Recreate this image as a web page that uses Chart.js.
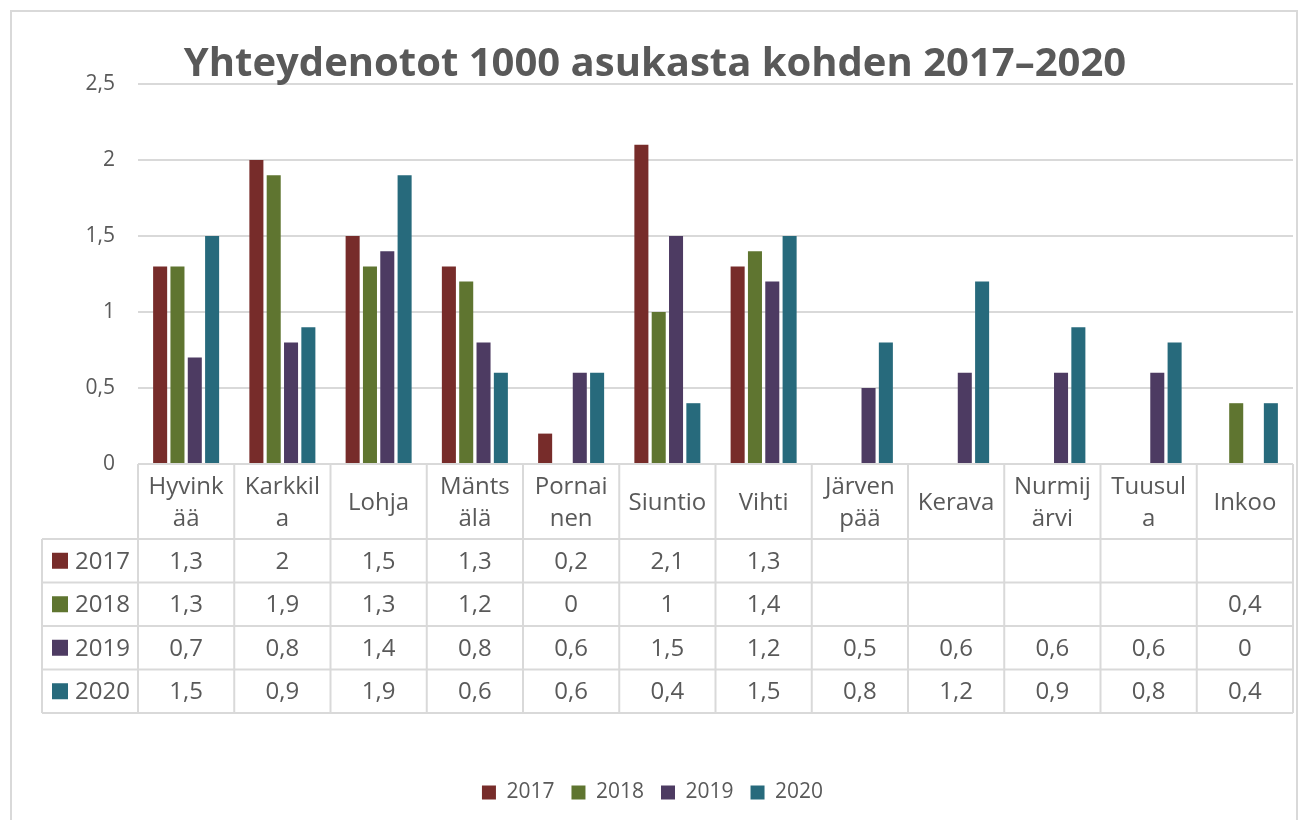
<!DOCTYPE html>
<html>
<head>
<meta charset="utf-8">
<title>Yhteydenotot 1000 asukasta kohden 2017–2020</title>
<script src="https://cdn.jsdelivr.net/npm/chart.js@4.4.0/dist/chart.umd.min.js"></script>
<style>
    html, body { margin: 0; padding: 0; background: #fff; }
    canvas { display: block; }
</style>
</head>
<body>
<canvas id="barChart" width="1302" height="820"></canvas>
<script>
// Data
const chartTitle = 'Yhteydenotot 1000 asukasta kohden 2017–2020';
const categories = [
    ['Hyvink', 'ää'], ['Karkkil', 'a'], 'Lohja', ['Mänts', 'älä'], ['Pornai', 'nen'],
    'Siuntio', 'Vihti', ['Järven', 'pää'], 'Kerava', ['Nurmij', 'ärvi'], ['Tuusul', 'a'], 'Inkoo'
];
const seriesNames = ['2017', '2018', '2019', '2020'];
const values2017 = [1.3, 2, 1.5, 1.3, 0.2, 2.1, 1.3, null, null, null, null, null];
const values2018 = [1.3, 1.9, 1.3, 1.2, 0, 1, 1.4, null, null, null, null, 0.4];
const values2019 = [0.7, 0.8, 1.4, 0.8, 0.6, 1.5, 1.2, 0.5, 0.6, 0.6, 0.6, 0];
const values2020 = [1.5, 0.9, 1.9, 0.6, 0.6, 0.4, 1.5, 0.8, 1.2, 0.9, 0.8, 0.4];
const seriesColors = ['#772C2A', '#5F7530', '#4D3B62', '#276A7C'];
const yTicks = [0, 0.5, 1, 1.5, 2, 2.5];

const TEXT = '#595959';
const LINE = '#d9d9d9';
const FONT = "'Open Sans', 'Noto Sans', sans-serif";

function fmt(v) {
    return String(v).replace('.', ',');
}

// Chart frame and title
const framePlugin = {
    id: 'frame',
    beforeDraw(chart) {
        const ctx = chart.ctx;
        ctx.save();
        ctx.fillStyle = '#fff';
        ctx.fillRect(0, 0, chart.width, chart.height);
        ctx.strokeStyle = LINE;
        ctx.lineWidth = 2;
        ctx.strokeRect(11, 11, 1286, 830);
        ctx.restore();
    },
    afterDraw(chart) {
        const ctx = chart.ctx;
        ctx.save();
        ctx.fillStyle = TEXT;
        ctx.font = 'bold 40px ' + FONT;
        ctx.textAlign = 'center';
        ctx.textBaseline = 'alphabetic';
        ctx.fillText(chartTitle, 655, 76);
        ctx.restore();
    }
};

// Data table under the plot, columns follow the x scale
const tablePlugin = {
    id: 'dataTable',
    afterDraw(chart) {
        const ctx = chart.ctx;
        const area = chart.chartArea;
        const xs = chart.scales.x;
        const n = categories.length;
        const colW = area.width / n;
        const top = area.bottom;
        const headH = 75;
        const rowH = 43.5;
        const leftX = 42;
        const bottom = top + headH + rowH * seriesNames.length;

        ctx.save();
        ctx.strokeStyle = LINE;
        ctx.lineWidth = 2;

        // horizontal lines
        ctx.beginPath();
        ctx.moveTo(area.left, top);
        ctx.lineTo(area.right, top);
        for (let r = 0; r <= seriesNames.length; r++) {
            const y = top + headH + rowH * r;
            ctx.moveTo(leftX, y);
            ctx.lineTo(area.right, y);
        }
        // vertical lines
        ctx.moveTo(leftX, top + headH);
        ctx.lineTo(leftX, bottom);
        for (let i = 0; i <= n; i++) {
            const x = xs.getPixelForValue(i) - colW / 2;
            ctx.moveTo(x, top);
            ctx.lineTo(x, bottom);
        }
        ctx.stroke();

        ctx.fillStyle = TEXT;
        ctx.textAlign = 'center';
        ctx.textBaseline = 'middle';
        ctx.font = '24px ' + FONT;

        // header cells
        categories.forEach((cat, i) => {
            const cx = xs.getPixelForValue(i);
            const lines = Array.isArray(cat) ? cat : [cat];
            const lh = 32;
            const y0 = top + headH / 2 + 2 - (lines.length - 1) * lh / 2;
            lines.forEach((t, k) => ctx.fillText(t, cx, y0 + k * lh));
        });

        // value rows
        chart.data.datasets.forEach((ds, r) => {
            const cy = top + headH + rowH * r + rowH / 2;
            ctx.fillStyle = ds.backgroundColor;
            ctx.fillRect(leftX + 10, cy - 8, 16, 16);
            ctx.fillStyle = TEXT;
            ctx.textAlign = 'left';
            ctx.fillText(ds.label, leftX + 33, cy + 1);
            ctx.textAlign = 'center';
            ds.data.forEach((v, i) => {
                if (v === null) return;
                ctx.fillText(fmt(v), xs.getPixelForValue(i), cy + 1);
            });
        });
        ctx.restore();
    }
};

document.addEventListener('DOMContentLoaded', function() {
    const seriesValues = [values2017, values2018, values2019, values2020];
    const datasets = seriesNames.map((name, k) => ({
        label: name,
        data: seriesValues[k],
        backgroundColor: seriesColors[k],
        borderWidth: 0,
        categoryPercentage: 0.72,
        barPercentage: 0.81
    }));

    const ctx = document.getElementById('barChart').getContext('2d');
    new Chart(ctx, {
        type: 'bar',
        data: {
            labels: categories,
            datasets: datasets
        },
        options: {
            responsive: false,
            animation: false,
            layout: {
                padding: { top: 84, left: 12, right: 9, bottom: 7 }
            },
            plugins: {
                legend: {
                    position: 'bottom',
                    labels: {
                        color: TEXT,
                        font: { family: FONT, size: 21 },
                        boxWidth: 14,
                        boxHeight: 14,
                        padding: 17
                    }
                },
                tooltip: { enabled: false }
            },
            scales: {
                x: {
                    ticks: { display: false },
                    grid: { display: false },
                    border: { display: false },
                    afterFit(scale) {
                        scale.height = 301;
                    }
                },
                y: {
                    min: 0,
                    max: 2.5,
                    afterBuildTicks(scale) {
                        scale.ticks = yTicks.map(v => ({ value: v }));
                    },
                    afterFit(scale) {
                        scale.width = 126;
                    },
                    ticks: {
                        color: TEXT,
                        font: { family: FONT, size: 21 },
                        padding: 23,
                        callback: function(value) {
                            return fmt(value);
                        }
                    },
                    grid: {
                        color: LINE,
                        lineWidth: 2,
                        drawTicks: false
                    },
                    border: { display: false }
                }
            }
        },
        plugins: [framePlugin, tablePlugin]
    });
});
</script>
</body>
</html>
